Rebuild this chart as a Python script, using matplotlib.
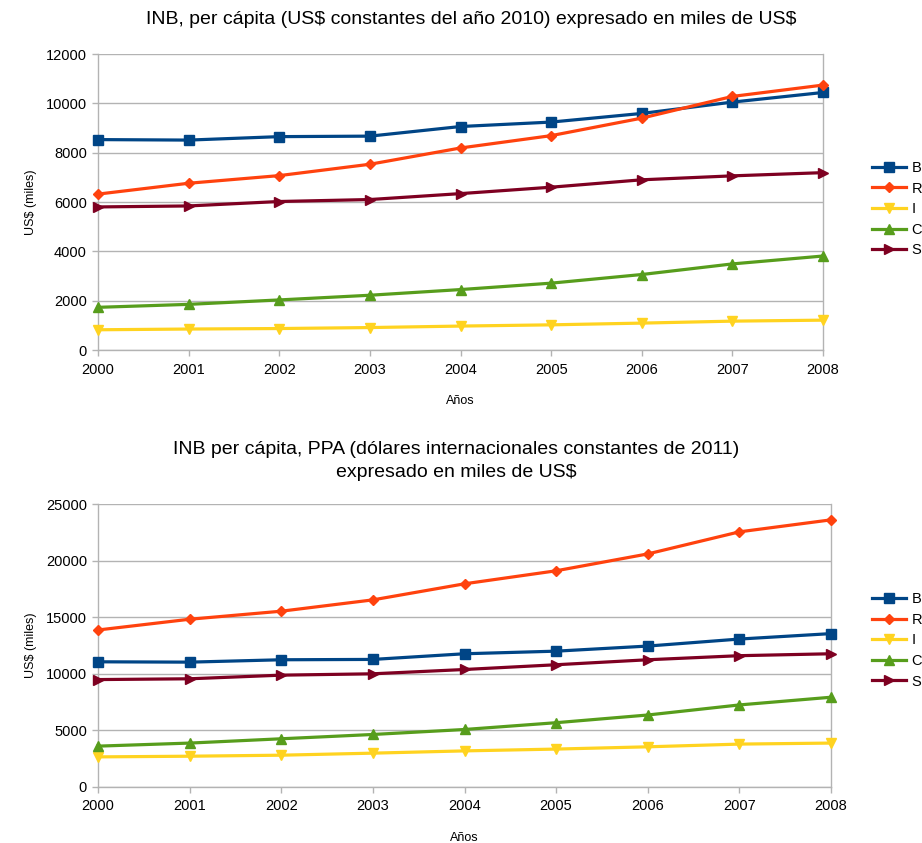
import matplotlib
matplotlib.use("Agg")
import matplotlib.pyplot as plt

plt.rcParams['font.family'] = ['Liberation Sans', 'DejaVu Sans']
plt.rcParams['text.parse_math'] = False

years = [2000, 2001, 2002, 2003, 2004, 2005, 2006, 2007, 2008]
series_names = ["B", "R", "I", "C", "S"]

# Chart 1: INB per cápita (US$ constantes 2010)
top_B = [8530, 8510, 8650, 8670, 9060, 9240, 9590, 10050, 10440]
top_R = [6320, 6760, 7070, 7530, 8190, 8690, 9400, 10280, 10740]
top_I = [820, 850, 870, 910, 970, 1020, 1090, 1170, 1210]
top_C = [1730, 1850, 2030, 2220, 2450, 2710, 3060, 3490, 3810]
top_S = [5800, 5840, 6020, 6100, 6340, 6600, 6900, 7060, 7190]

# Chart 2: INB per cápita, PPA (constantes 2011)
bot_B = [11060, 11030, 11240, 11270, 11770, 12000, 12450, 13070, 13550]
bot_R = [13870, 14820, 15530, 16530, 17950, 19100, 20590, 22540, 23600]
bot_I = [2660, 2720, 2810, 2990, 3190, 3350, 3550, 3790, 3880]
bot_C = [3610, 3880, 4260, 4640, 5080, 5680, 6360, 7250, 7930]
bot_S = [9490, 9560, 9880, 10000, 10380, 10800, 11240, 11600, 11770]

colors = {"B": "#004586", "R": "#ff420e", "I": "#ffd320", "C": "#579d1c", "S": "#7e0021"}
markers = {"B": ("s", 7.0), "R": ("D", 5.5), "I": ("v", 7.5), "C": ("^", 7.5), "S": (">", 7.5)}

W, H = 922, 843
fig = plt.figure(figsize=(W / 100, H / 100), dpi=100)

def px_axes(left, right, top, bottom):
    return fig.add_axes([left / W, (H - bottom) / H, (right - left) / W, (bottom - top) / H])

def style(ax, ymax, ystep):
    ax.set_xlim(2000, 2008)
    ax.set_ylim(0, ymax)
    ax.set_xticks(years)
    ax.set_xticklabels([str(y) for y in years])
    ax.set_yticks(range(0, ymax + 1, ystep))
    ax.grid(axis='y', color='#b3b3b3', linewidth=1.0)
    ax.set_axisbelow(True)
    for s in ['left', 'bottom', 'right']:
        ax.spines[s].set_color('#b3b3b3')
        ax.spines[s].set_linewidth(1.0)
    ax.spines['top'].set_visible(False)
    ax.tick_params(axis='both', colors='#b3b3b3', labelcolor='#000000', length=4, width=1.0,
                   labelsize=10.5, direction='out')
    ax.tick_params(axis='y', pad=4)
    ax.tick_params(axis='x', pad=5)
    ax.set_xlabel("Años", fontsize=9, labelpad=13)
    ax.set_ylabel("US$ (miles)", fontsize=9, labelpad=6)

def draw(ax, data):
    for name in series_names:
        m, ms = markers[name]
        ax.plot(years, data[name], color=colors[name], linewidth=2.3, marker=m,
                markersize=ms, label=name, clip_on=False, zorder=3)

ax1 = px_axes(98, 823, 54, 350)
style(ax1, 12000, 2000)
draw(ax1, {"B": top_B, "R": top_R, "I": top_I, "C": top_C, "S": top_S})
ax1.legend(loc='center left', bbox_to_anchor=(1.0676, 0.476), frameon=False, fontsize=10.5,
           borderaxespad=0, borderpad=0, handlelength=2.3, handletextpad=0.4, labelspacing=0.45)
fig.text(471 / W, 1 - 20 / H, "INB, per cápita (US$ constantes del año 2010) expresado en miles de US$",
         ha='center', va='center', fontsize=14)

ax2 = px_axes(98, 831, 504, 787)
style(ax2, 25000, 5000)
draw(ax2, {"B": bot_B, "R": bot_R, "I": bot_I, "C": bot_C, "S": bot_S})
ax2.legend(loc='center left', bbox_to_anchor=(1.056, 0.518), frameon=False, fontsize=10.5,
           borderaxespad=0, borderpad=0, handlelength=2.3, handletextpad=0.4, labelspacing=0.45)
fig.text(456 / W, 1 - 461 / H,
         "INB per cápita, PPA (dólares internacionales constantes de 2011)\nexpresado en miles de US$",
         ha='center', va='center', fontsize=14, linespacing=1.4)

fig.savefig("out.png", dpi=100, facecolor='white')
